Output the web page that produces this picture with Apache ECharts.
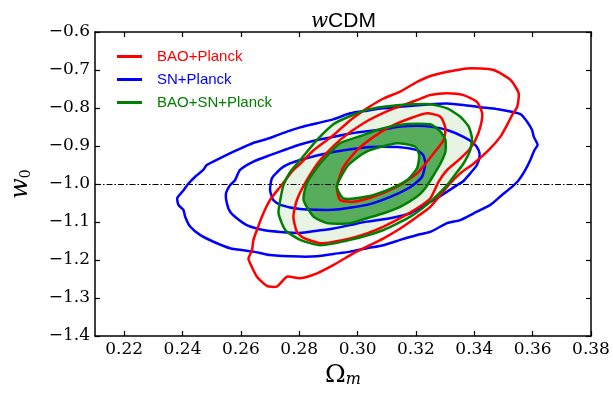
<!DOCTYPE html>
<html><head><meta charset="utf-8">
<script src="https://cdn.jsdelivr.net/npm/echarts@6/dist/echarts.min.js"></script>
<style>html,body{margin:0;padding:0;background:#fff}#c{width:613px;height:395px}</style>
</head><body><div id="c"></div>
<script>
const xTicks = [0.22, 0.24, 0.26, 0.28, 0.30, 0.32, 0.34, 0.36, 0.38];
const yTicks = [-1.4, -1.3, -1.2, -1.1, -1.0, -0.9, -0.8, -0.7, -0.6];
const legendNames = ['BAO+Planck', 'SN+Planck', 'BAO+SN+Planck'];
const refLine = -1.0;

// BAO+Planck contours (red)
const baoOuter = [[0.2689,-1.268],[0.2655,-1.244],[0.2632,-1.209],[0.2626,-1.196],[0.2638,-1.174],[0.2643,-1.147],[0.2655,-1.121],[0.2672,-1.086],[0.2700,-1.042],[0.2735,-1.007],[0.2752,-0.990],[0.2780,-0.963],[0.2803,-0.947],[0.2849,-0.911],[0.2918,-0.871],[0.2975,-0.832],[0.3032,-0.801],[0.3089,-0.775],[0.3146,-0.757],[0.3204,-0.731],[0.3261,-0.713],[0.3375,-0.696],[0.3466,-0.700],[0.3524,-0.726],[0.3552,-0.761],[0.3547,-0.797],[0.3530,-0.818],[0.3512,-0.845],[0.3489,-0.876],[0.3449,-0.911],[0.3398,-0.946],[0.3352,-0.972],[0.3318,-0.998],[0.3249,-1.060],[0.3204,-1.086],[0.3146,-1.117],[0.3089,-1.143],[0.3032,-1.165],[0.2975,-1.187],[0.2918,-1.213],[0.2861,-1.235],[0.2803,-1.248],[0.2758,-1.244],[0.2723,-1.270]];
const baoMid = [[0.2780,-1.086],[0.2792,-1.042],[0.2826,-0.990],[0.2872,-0.937],[0.2940,-0.884],[0.3020,-0.840],[0.3112,-0.805],[0.3204,-0.779],[0.3249,-0.766],[0.3307,-0.761],[0.3363,-0.766],[0.3409,-0.784],[0.3427,-0.814],[0.3421,-0.849],[0.3404,-0.884],[0.3381,-0.911],[0.3346,-0.937],[0.3307,-0.963],[0.3277,-0.995],[0.3249,-1.038],[0.3204,-1.064],[0.3146,-1.090],[0.3089,-1.112],[0.3032,-1.130],[0.2975,-1.143],[0.2918,-1.152],[0.2872,-1.156],[0.2815,-1.142],[0.2792,-1.126]];
const baoInner = [[0.2929,-1.007],[0.2952,-0.955],[0.2998,-0.911],[0.3055,-0.876],[0.3112,-0.849],[0.3181,-0.827],[0.3238,-0.814],[0.3284,-0.823],[0.3301,-0.853],[0.3295,-0.884],[0.3261,-0.919],[0.3204,-0.972],[0.3135,-1.007],[0.3055,-1.033],[0.2986,-1.047],[0.2940,-1.042]];

// SN+Planck contours (blue)
const snOuter = [[0.2382,-1.037],[0.2402,-1.018],[0.2419,-1.000],[0.2446,-0.979],[0.2471,-0.963],[0.2483,-0.950],[0.2529,-0.932],[0.2586,-0.911],[0.2642,-0.892],[0.2700,-0.879],[0.2758,-0.862],[0.2803,-0.851],[0.2861,-0.840],[0.2916,-0.830],[0.2975,-0.814],[0.3032,-0.807],[0.3088,-0.801],[0.3146,-0.797],[0.3249,-0.790],[0.3307,-0.788],[0.3363,-0.792],[0.3421,-0.798],[0.3478,-0.803],[0.3558,-0.816],[0.3581,-0.836],[0.3598,-0.858],[0.3604,-0.876],[0.3617,-0.897],[0.3606,-0.911],[0.3592,-0.937],[0.3575,-0.963],[0.3552,-0.990],[0.3524,-1.011],[0.3495,-1.029],[0.3455,-1.055],[0.3398,-1.077],[0.3352,-1.095],[0.3307,-1.103],[0.3249,-1.126],[0.3204,-1.134],[0.3146,-1.147],[0.3089,-1.161],[0.3032,-1.169],[0.2975,-1.178],[0.2918,-1.184],[0.2861,-1.190],[0.2803,-1.191],[0.2700,-1.187],[0.2643,-1.178],[0.2563,-1.169],[0.2506,-1.152],[0.2460,-1.134],[0.2426,-1.112],[0.2409,-1.086],[0.2403,-1.068],[0.2386,-1.055]];
const snMid = [[0.2549,-1.025],[0.2563,-1.003],[0.2580,-0.990],[0.2597,-0.963],[0.2643,-0.941],[0.2700,-0.924],[0.2758,-0.908],[0.2803,-0.896],[0.2861,-0.884],[0.2918,-0.876],[0.2975,-0.867],[0.3032,-0.861],[0.3089,-0.856],[0.3146,-0.849],[0.3204,-0.847],[0.3249,-0.849],[0.3307,-0.858],[0.3363,-0.876],[0.3398,-0.893],[0.3415,-0.911],[0.3418,-0.928],[0.3409,-0.950],[0.3386,-0.972],[0.3363,-0.992],[0.3341,-1.003],[0.3307,-1.020],[0.3272,-1.038],[0.3249,-1.047],[0.3181,-1.077],[0.3112,-1.090],[0.3032,-1.099],[0.2975,-1.108],[0.2918,-1.117],[0.2861,-1.123],[0.2803,-1.129],[0.2735,-1.126],[0.2677,-1.121],[0.2620,-1.108],[0.2586,-1.090],[0.2563,-1.073],[0.2552,-1.051]];
const snInner = [[0.2700,-1.016],[0.2711,-1.042],[0.2735,-1.055],[0.2803,-1.066],[0.2916,-1.068],[0.3032,-1.055],[0.3112,-1.034],[0.3181,-1.008],[0.3221,-0.981],[0.3232,-0.946],[0.3225,-0.924],[0.3204,-0.911],[0.3146,-0.903],[0.3088,-0.902],[0.3032,-0.903],[0.2916,-0.916],[0.2803,-0.937],[0.2745,-0.955],[0.2707,-0.984]];

// BAO+SN+Planck contours (green)
const combOuter = [[0.2729,-1.077],[0.2735,-1.042],[0.2746,-1.003],[0.2769,-0.968],[0.2803,-0.937],[0.2861,-0.884],[0.2918,-0.842],[0.2975,-0.821],[0.3032,-0.805],[0.3089,-0.797],[0.3146,-0.792],[0.3249,-0.790],[0.3307,-0.801],[0.3352,-0.823],[0.3381,-0.849],[0.3392,-0.880],[0.3386,-0.911],[0.3363,-0.946],[0.3329,-0.981],[0.3307,-1.003],[0.3249,-1.047],[0.3181,-1.086],[0.3089,-1.121],[0.2975,-1.147],[0.2872,-1.161],[0.2803,-1.147],[0.2752,-1.121]];
const combMid = [[0.2815,-1.042],[0.2826,-0.998],[0.2872,-0.946],[0.2940,-0.893],[0.3009,-0.874],[0.3089,-0.853],[0.3169,-0.842],[0.3249,-0.843],[0.3284,-0.862],[0.3301,-0.884],[0.3301,-0.915],[0.3284,-0.946],[0.3261,-0.976],[0.3232,-1.011],[0.3204,-1.033],[0.3146,-1.060],[0.3089,-1.077],[0.3032,-1.090],[0.2975,-1.103],[0.2895,-1.103],[0.2849,-1.086]];
const combInner = [[0.2929,-1.007],[0.2963,-0.955],[0.3002,-0.929],[0.3043,-0.911],[0.3135,-0.893],[0.3198,-0.902],[0.3211,-0.924],[0.3204,-0.958],[0.3169,-0.990],[0.3101,-1.016],[0.3032,-1.033],[0.2952,-1.038]];

const RED = '#ff0000', BLUE = '#0000ff', GREEN = '#008000';
const SERIF = 'DejaVu Serif';

function poly(name, pts, fill, stroke, z) {
  return {
    type: 'custom', name: name, coordinateSystem: 'cartesian2d', data: pts, z: z, silent: true,
    renderItem: function (params, api) {
      if (params.dataIndex !== 0) return null;
      const points = pts.map(function (p) { return api.coord(p); });
      return {
        type: 'polygon',
        shape: { points: points, smooth: 0.2 },
        style: { fill: fill || 'none', stroke: stroke || 'none', lineWidth: stroke ? 2.5 : 0, lineJoin: 'round' }
      };
    }
  };
}

const fmtMinus = function (v, d) { return v.toFixed(d).replace('-', '\u2212'); };
const axisLineStyle = { color: '#000', width: 1.5 };
const tickStyle = { color: '#000', width: 1.2 };

const chart = echarts.init(document.getElementById('c'), null, { renderer: 'canvas' });
chart.setOption({
  animation: false,
  backgroundColor: '#fff',
  title: {
    text: '{w|w}{c|CDM}', left: 306, top: 6,
    textStyle: { fontWeight: 'normal', rich: {
      w: { fontFamily: SERIF, fontStyle: 'italic', fontWeight: 'normal', fontSize: 20, color: '#000' },
      c: { fontFamily: 'Liberation Sans', fontWeight: 'normal', fontSize: 21, color: '#000' }
    } }
  },
  grid: { left: 95, right: 22, top: 32, bottom: 59, containLabel: false },
  legend: {
    orient: 'vertical', left: 112, top: 44, itemWidth: 25, itemHeight: 3, itemGap: 8,
    icon: 'rect', selectedMode: false,
    textStyle: { fontFamily: 'Liberation Sans', fontSize: 15, lineHeight: 15, padding: [0, 0, 0, 10] },
    data: [
      { name: legendNames[0], itemStyle: { color: RED }, textStyle: { color: RED } },
      { name: legendNames[1], itemStyle: { color: BLUE }, textStyle: { color: BLUE } },
      { name: legendNames[2], itemStyle: { color: GREEN }, textStyle: { color: GREEN } }
    ]
  },
  xAxis: [{
    type: 'value', position: 'bottom', min: 0.21, max: 0.38,
    axisLine: { show: true, onZero: false, lineStyle: axisLineStyle },
    axisTick: { show: true, inside: true, length: 5, customValues: xTicks, lineStyle: tickStyle },
    axisLabel: { customValues: xTicks, formatter: function (v) { return v.toFixed(2); }, fontFamily: SERIF, fontSize: 17, color: '#000', margin: 5 },
    splitLine: { show: false },
    name: '{o|\u03A9}{m|m}', nameLocation: 'middle', nameGap: 24,
    nameTextStyle: { rich: {
      o: { fontFamily: SERIF, fontSize: 25, lineHeight: 25, color: '#000' },
      m: { fontFamily: SERIF, fontStyle: 'italic', fontSize: 16, lineHeight: 6, verticalAlign: 'bottom', color: '#000' }
    } }
  }, {
    type: 'value', position: 'top', min: 0.21, max: 0.38,
    axisLine: { show: true, onZero: false, lineStyle: axisLineStyle },
    axisTick: { show: true, inside: true, length: 5, customValues: xTicks, lineStyle: tickStyle },
    axisLabel: { show: false }, splitLine: { show: false }
  }],
  yAxis: [{
    type: 'value', position: 'left', min: -1.4, max: -0.6,
    axisLine: { show: true, onZero: false, lineStyle: axisLineStyle },
    axisTick: { show: true, inside: true, length: 5, customValues: yTicks, lineStyle: tickStyle },
    axisLabel: { customValues: yTicks, formatter: function (v) { return fmtMinus(v, 1); }, fontFamily: SERIF, fontSize: 17, color: '#000', margin: 5 },
    splitLine: { show: false },
    name: '{w|w}{s|0}', nameLocation: 'middle', nameGap: 62,
    nameTextStyle: { rich: {
      w: { fontFamily: SERIF, fontStyle: 'italic', fontSize: 24, lineHeight: 24, color: '#000' },
      s: { fontFamily: SERIF, fontSize: 14, lineHeight: 8, verticalAlign: 'bottom', color: '#000' }
    } }
  }, {
    type: 'value', position: 'right', min: -1.4, max: -0.6,
    axisLine: { show: true, onZero: false, lineStyle: axisLineStyle },
    axisTick: { show: true, inside: true, length: 5, customValues: yTicks, lineStyle: tickStyle },
    axisLabel: { show: false }, splitLine: { show: false }
  }],
  series: [
    poly(legendNames[2], combOuter, '#e7f3e3', null, 1),
    poly(legendNames[2], combMid, '#58ad5c', null, 2),
    poly(legendNames[2], combInner, '#ffffff', null, 3),
    poly(legendNames[1], snOuter, null, BLUE, 5),
    poly(legendNames[1], snMid, null, BLUE, 5),
    poly(legendNames[1], snInner, null, BLUE, 5),
    poly(legendNames[0], baoOuter, null, RED, 6),
    poly(legendNames[0], baoMid, null, RED, 6),
    poly(legendNames[0], baoInner, null, RED, 6),
    poly(legendNames[2], combOuter, null, GREEN, 7),
    poly(legendNames[2], combMid, null, GREEN, 7),
    poly(legendNames[2], combInner, null, GREEN, 7),
    {
      type: 'line', data: [], z: 9, silent: true,
      markLine: {
        silent: true, symbol: ['none', 'none'], label: { show: false },
        lineStyle: { color: '#000', width: 1.2, type: [6, 2, 1.5, 2] },
        data: [{ yAxis: refLine }]
      }
    }
  ]
});
</script></body></html>
